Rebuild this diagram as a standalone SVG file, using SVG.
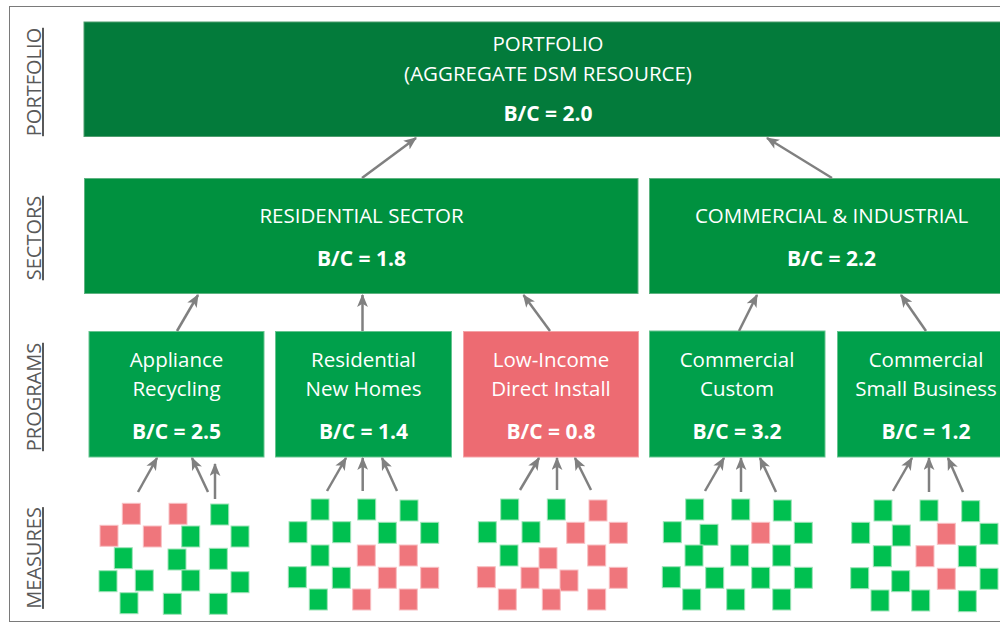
<svg xmlns="http://www.w3.org/2000/svg" width="1000" height="631" viewBox="0 0 1000 631">
  <style>
    .frame { fill: none; stroke: #7a7a7a; stroke-width: 1; }
    .lvl { font-family: "Open Sans", "Liberation Sans", sans-serif; font-size: 20px; fill: #595959; text-decoration: underline; text-anchor: middle; }
    .t { font-family: "Open Sans", "Liberation Sans", sans-serif; font-size: 20.5px; fill: #ffffff; text-anchor: middle; }
    .b { font-family: "Open Sans", "Liberation Sans", sans-serif; font-size: 21px; font-weight: bold; fill: #ffffff; text-anchor: middle; }
    .pf { fill: #037B3B; stroke: #4f9d6e; stroke-width: 1; }
    .sec { fill: #00913F; stroke: #5fb381; stroke-width: 1; }
    .prg { fill: #00A04B; stroke: #66c48f; stroke-width: 1; }
    .bad { fill: #ED6B72; stroke: #f4a3a7; stroke-width: 1; }
    .g { fill: #00C050; stroke: #9fe3b8; stroke-width: 1; }
    .r { fill: #EF767C; stroke: #f8c0c3; stroke-width: 1; }
    .arr { fill: none; stroke: #808080; stroke-width: 2.5; marker-end: url(#head); }
  </style>
  <defs>
    <marker id="head" viewBox="0 0 12 10" refX="11" refY="5" markerWidth="13" markerHeight="11" markerUnits="userSpaceOnUse" orient="auto">
      <path d="M0,0 L12,5 L0,10 L3,5 Z" fill="#808080"/>
    </marker>
  </defs>

  <rect width="1000" height="631" fill="#ffffff"/>
  <rect class="frame" x="9.5" y="6.5" width="1010" height="615"/>

  <!-- level labels -->
  <g id="levels">
    <text class="lvl" transform="translate(41,82) rotate(-90)">PORTFOLIO</text>
    <text class="lvl" transform="translate(41,238) rotate(-90)">SECTORS</text>
    <text class="lvl" transform="translate(41,397) rotate(-90)">PROGRAMS</text>
    <text class="lvl" transform="translate(41,558) rotate(-90)">MEASURES</text>
  </g>

  <!-- portfolio -->
  <g id="portfolio">
    <rect class="pf" x="84" y="22" width="928" height="114.5"/>
    <text class="t" x="548" y="51">PORTFOLIO</text>
    <text class="t" x="548" y="80.5">(AGGREGATE DSM RESOURCE)</text>
    <text class="b" x="548" y="121">B/C = 2.0</text>
  </g>

  <!-- sectors -->
  <g id="sector-residential">
    <rect class="sec" x="84.5" y="178.5" width="553.5" height="115"/>
    <text class="t" x="361.5" y="222.5">RESIDENTIAL SECTOR</text>
    <text class="b" x="361.5" y="266">B/C = 1.8</text>
  </g>
  <g id="sector-commercial">
    <rect class="sec" x="649.5" y="178.5" width="364" height="115"/>
    <text class="t" x="831.5" y="222.5">COMMERCIAL &amp; INDUSTRIAL</text>
    <text class="b" x="831.5" y="266">B/C = 2.2</text>
  </g>

  <!-- programs -->
  <g id="prog-appliance">
    <rect class="prg" x="89" y="331.5" width="175" height="125.5"/>
    <text class="t" x="176.5" y="366.7">Appliance</text>
    <text class="t" x="176.5" y="395.7">Recycling</text>
    <text class="b" x="176.5" y="439">B/C = 2.5</text>
  </g>
  <g id="prog-newhomes">
    <rect class="prg" x="275.5" y="331.5" width="176" height="125.5"/>
    <text class="t" x="363.5" y="366.7">Residential</text>
    <text class="t" x="363.5" y="395.7">New Homes</text>
    <text class="b" x="363.5" y="439">B/C = 1.4</text>
  </g>
  <g id="prog-lowincome">
    <rect class="bad" x="463.5" y="331.5" width="175" height="125.5"/>
    <text class="t" x="551" y="366.7">Low-Income</text>
    <text class="t" x="551" y="395.7">Direct Install</text>
    <text class="b" x="551" y="439">B/C = 0.8</text>
  </g>
  <g id="prog-custom">
    <rect class="prg" x="649.5" y="331" width="175.5" height="126"/>
    <text class="t" x="737" y="366.7">Commercial</text>
    <text class="t" x="737" y="395.7">Custom</text>
    <text class="b" x="737" y="439">B/C = 3.2</text>
  </g>
  <g id="prog-smallbiz">
    <rect class="prg" x="837.5" y="331.5" width="177" height="125.5"/>
    <text class="t" x="926" y="366.7">Commercial</text>
    <text class="t" x="926" y="395.7">Small Business</text>
    <text class="b" x="926" y="439">B/C = 1.2</text>
  </g>

  <!-- measures -->
  <g id="measures-appliance">
    <rect class="r" x="122.3" y="503.3" width="18" height="21"/>
    <rect class="r" x="169" y="503.3" width="18" height="21"/>
    <rect class="g" x="210.7" y="504" width="18" height="21"/>
    <rect class="r" x="100" y="525.3" width="18" height="21"/>
    <rect class="r" x="143.3" y="526" width="18" height="21"/>
    <rect class="g" x="181.7" y="526" width="18" height="21"/>
    <rect class="g" x="231" y="526" width="18" height="21"/>
    <rect class="g" x="114.3" y="547.7" width="18" height="21"/>
    <rect class="g" x="168" y="549" width="18" height="21"/>
    <rect class="g" x="209.3" y="548.3" width="18" height="21"/>
    <rect class="g" x="99" y="570.7" width="18" height="21"/>
    <rect class="g" x="135.3" y="570" width="18" height="21"/>
    <rect class="g" x="181.7" y="570" width="18" height="21"/>
    <rect class="g" x="231" y="571.7" width="18" height="21"/>
    <rect class="g" x="120" y="592.7" width="18" height="21"/>
    <rect class="g" x="163.3" y="593.3" width="18" height="21"/>
    <rect class="g" x="209.3" y="593.3" width="18" height="21"/>
  </g>
  <g id="measures-newhomes">
    <rect class="g" x="311" y="499" width="18" height="21"/>
    <rect class="g" x="357.7" y="499" width="18" height="21"/>
    <rect class="g" x="400" y="500" width="18" height="21"/>
    <rect class="g" x="289" y="521.7" width="18" height="21"/>
    <rect class="g" x="332.7" y="521.7" width="18" height="21"/>
    <rect class="g" x="378.3" y="522.3" width="18" height="21"/>
    <rect class="g" x="420.7" y="522.3" width="18" height="21"/>
    <rect class="g" x="311" y="545" width="18" height="21"/>
    <rect class="r" x="357.3" y="545" width="18" height="21"/>
    <rect class="r" x="399.3" y="545" width="18" height="21"/>
    <rect class="g" x="288.3" y="566.7" width="18" height="21"/>
    <rect class="g" x="332.3" y="567.3" width="18" height="21"/>
    <rect class="r" x="378.3" y="567.3" width="18" height="21"/>
    <rect class="r" x="420.7" y="567.3" width="18" height="21"/>
    <rect class="g" x="309.3" y="589" width="18" height="21"/>
    <rect class="r" x="352.7" y="589" width="18" height="21"/>
    <rect class="r" x="399.3" y="589" width="18" height="21"/>
  </g>
  <g id="measures-lowincome">
    <rect class="g" x="500.7" y="499" width="18" height="21"/>
    <rect class="g" x="547.3" y="499" width="18" height="21"/>
    <rect class="r" x="589" y="500" width="18" height="21"/>
    <rect class="g" x="478.3" y="521.7" width="18" height="21"/>
    <rect class="g" x="522" y="521.7" width="18" height="21"/>
    <rect class="r" x="566.7" y="522.3" width="18" height="21"/>
    <rect class="r" x="609.3" y="522.3" width="18" height="21"/>
    <rect class="g" x="500" y="545" width="18" height="21"/>
    <rect class="r" x="539" y="547.7" width="18" height="21"/>
    <rect class="r" x="587.7" y="545" width="18" height="21"/>
    <rect class="r" x="477.3" y="566.7" width="18" height="21"/>
    <rect class="r" x="521" y="567.3" width="18" height="21"/>
    <rect class="r" x="560" y="570" width="18" height="21"/>
    <rect class="r" x="609.3" y="567.3" width="18" height="21"/>
    <rect class="r" x="498.3" y="589" width="18" height="21"/>
    <rect class="r" x="542.3" y="589" width="18" height="21"/>
    <rect class="r" x="587.7" y="589" width="18" height="21"/>
  </g>
  <g id="measures-custom">
    <rect class="g" x="685.7" y="499" width="18" height="21"/>
    <rect class="g" x="731.7" y="499" width="18" height="21"/>
    <rect class="g" x="773.3" y="500" width="18" height="21"/>
    <rect class="g" x="663.3" y="521.7" width="18" height="21"/>
    <rect class="g" x="700" y="524.3" width="18" height="21"/>
    <rect class="r" x="751.7" y="522.3" width="18" height="21"/>
    <rect class="g" x="794.3" y="522.3" width="18" height="21"/>
    <rect class="g" x="685" y="545" width="18" height="21"/>
    <rect class="g" x="730.7" y="545" width="18" height="21"/>
    <rect class="g" x="772.7" y="545" width="18" height="21"/>
    <rect class="g" x="662.3" y="566.7" width="18" height="21"/>
    <rect class="g" x="705.7" y="567.3" width="18" height="21"/>
    <rect class="g" x="751.7" y="567.3" width="18" height="21"/>
    <rect class="g" x="794.3" y="567.3" width="18" height="21"/>
    <rect class="g" x="682.7" y="589" width="18" height="21"/>
    <rect class="g" x="726.7" y="589" width="18" height="21"/>
    <rect class="g" x="772.7" y="589" width="18" height="21"/>
  </g>
  <g id="measures-smallbiz">
    <rect class="g" x="874" y="500" width="18" height="21"/>
    <rect class="g" x="920" y="500" width="18" height="21"/>
    <rect class="g" x="961.7" y="500.7" width="18" height="21"/>
    <rect class="g" x="851.7" y="522.3" width="18" height="21"/>
    <rect class="g" x="892.3" y="525" width="18" height="21"/>
    <rect class="r" x="937.3" y="523.3" width="18" height="21"/>
    <rect class="g" x="980" y="523.3" width="18" height="21"/>
    <rect class="g" x="873.3" y="545.7" width="18" height="21"/>
    <rect class="r" x="916" y="545.7" width="18" height="21"/>
    <rect class="g" x="958.3" y="545.7" width="18" height="21"/>
    <rect class="g" x="850.7" y="567.7" width="18" height="21"/>
    <rect class="g" x="891.7" y="570.7" width="18" height="21"/>
    <rect class="r" x="937.3" y="568.3" width="18" height="21"/>
    <rect class="g" x="980" y="568.3" width="18" height="21"/>
    <rect class="g" x="871" y="590" width="18" height="21"/>
    <rect class="g" x="911.7" y="590" width="18" height="21"/>
    <rect class="g" x="958.3" y="590.7" width="18" height="21"/>
  </g>

  <!-- connectors -->
  <g id="connectors">
    <path class="arr" d="M362,178 L416,138"/>
    <path class="arr" d="M832,178 L767,138"/>

    <path class="arr" d="M177,331 L198,295"/>
    <path class="arr" d="M362.5,331 L362.5,295"/>
    <path class="arr" d="M550,331 L523.5,295"/>
    <path class="arr" d="M739,331 L757,295"/>
    <path class="arr" d="M926,331 L901,295"/>

    <path class="arr" d="M138,492 L157,458"/>
    <path class="arr" d="M208,492 L192,458"/>
    <path class="arr" d="M215,499 L215,464"/>

    <path class="arr" d="M327,491 L346,458"/>
    <path class="arr" d="M362.7,491 L362.7,458"/>
    <path class="arr" d="M397,491 L382,458"/>

    <path class="arr" d="M520,490 L539,458"/>
    <path class="arr" d="M557,490 L557,458"/>
    <path class="arr" d="M591,490 L575,458"/>

    <path class="arr" d="M705,491 L724,458"/>
    <path class="arr" d="M741,492 L741,458"/>
    <path class="arr" d="M776,492 L760,458"/>

    <path class="arr" d="M893,491 L912,458"/>
    <path class="arr" d="M929,492 L929,458"/>
    <path class="arr" d="M963,492 L948,458"/>
  </g>
</svg>
